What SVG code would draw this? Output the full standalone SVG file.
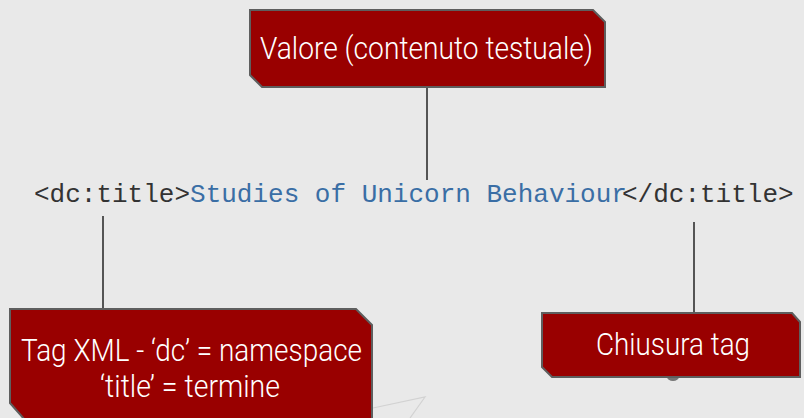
<svg xmlns="http://www.w3.org/2000/svg" width="804" height="418" viewBox="0 0 804 418">
<style>
.bg{fill:#e9e9e9}
.box{fill:#990000;stroke:#5e5e5e;stroke-width:2}
.lbl{font-family:Roboto,"Liberation Sans",sans-serif;font-weight:300;fill:#ffffff;font-size:32px}
.code{font-family:"Liberation Mono","DejaVu Sans Mono",monospace;font-size:26px}
.conn{stroke:#555555;stroke-width:2;fill:none}
</style>
<rect class="bg" x="0" y="0" width="804" height="418"/>
<polyline points="373,408 425,397 410,418" fill="none" stroke="#d2d2d2" stroke-width="1.2"/>
<g id="connectors">
<line class="conn" x1="427" y1="87" x2="427" y2="180"/>
<line class="conn" x1="103" y1="216" x2="103" y2="309"/>
<line class="conn" x1="694" y1="222" x2="694" y2="313"/>
</g>
<g id="code-line">
<text class="code" x="34" y="202"><tspan fill="#333333">&lt;dc:title&gt;</tspan><tspan fill="#3a6ea5">Studies of Unicorn Behaviour</tspan></text>
<text class="code" x="622" y="202" fill="#333333">&lt;/dc:title&gt;</text>
</g>
<g id="node-valore">
<path class="box" d="M250,10 L593,10 L605,22 L605,87 L262,87 L250,75 Z"/>
<text class="lbl" x="426.5" y="59" text-anchor="middle" textLength="333" lengthAdjust="spacingAndGlyphs">Valore (contenuto testuale)</text>
</g>
<g id="node-tag">
<path class="box" d="M10,309 L356,309 L372,325 L372,420 L25,420 L10,403 Z"/>
<text class="lbl" x="191.5" y="361" text-anchor="middle" textLength="341" lengthAdjust="spacingAndGlyphs">Tag XML - ‘dc’ = namespace</text>
<text class="lbl" x="190" y="397" text-anchor="middle" textLength="180" lengthAdjust="spacingAndGlyphs">‘title’ = termine</text>
</g>
<g id="node-chiusura">
<ellipse cx="673" cy="377" rx="6" ry="4" fill="#777777"/>
<path class="box" d="M542,313 L792,313 L800,322 L800,377 L552,377 L542,367 Z"/>
<text class="lbl" x="673" y="355" text-anchor="middle" textLength="154" lengthAdjust="spacingAndGlyphs">Chiusura tag</text>
</g>
</svg>
